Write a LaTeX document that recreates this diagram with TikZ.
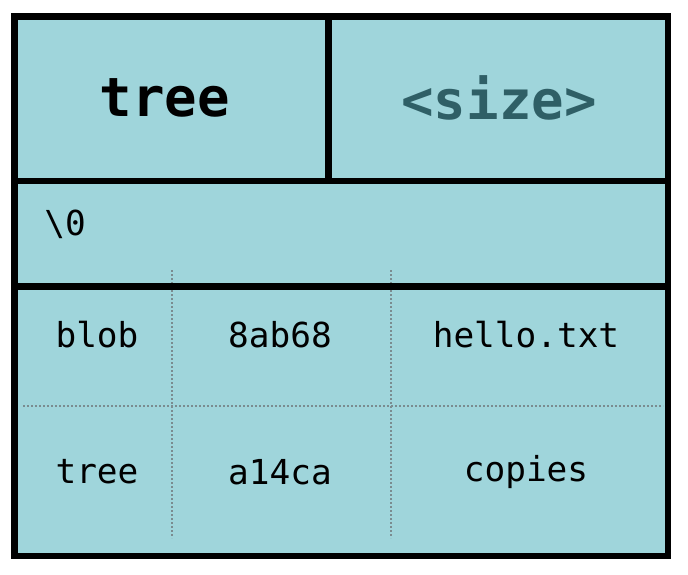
\documentclass[tikz,border=0pt]{standalone}
\usepackage{fontspec}
\setmonofont{DejaVu Sans Mono}
\definecolor{CellTeal}{HTML}{9FD5DB}
\definecolor{SizeText}{HTML}{2F5F66}
\definecolor{DotGray}{HTML}{7A8C90}
\usetikzlibrary{positioning}

\tikzset{
  bigcell/.style={font=\ttfamily\bfseries\fontsize{27}{30}\selectfont},
  smallcell/.style={font=\ttfamily\fontsize{17.2}{20}\selectfont},
  gridline/.style={DotGray, line width=0.7pt, dash pattern=on 0.9pt off 1.1pt},
  wall/.style={black, line width=3.2pt}
}

\begin{document}
\begin{tikzpicture}[x=0.5pt, y=-0.5pt]
  \useasboundingbox (0,0) rectangle (688,574);
  \fill[CellTeal] (14.5,16.5) rectangle (668,556);

  % dotted entry grid
  \draw[gridline] (172,270) -- (172,538);
  \draw[gridline] (391,270) -- (391,538);
  \draw[gridline] (23,406) -- (663,406);

  % header and rows
  \draw[wall] (14.5,181) -- (668,181);
  \draw[wall] (14.5,286.5) -- (668,286.5);
  \draw[wall] (328.5,16.5) -- (328.5,181);
  \draw[wall] (14.5,16.5) rectangle (668,556);

  \node[bigcell] (hdtype) at (165,98) {tree};
  \node[bigcell, text=SizeText] (hdsize) at (499,98) {<size>};
  \node[smallcell, anchor=west, inner sep=0pt] (nul) at (44,224) {\textbackslash 0};

  \node[smallcell] (modeA) at (97,335) {blob};
  \node[smallcell] (hashA) at (280,335) {8ab68};
  \node[smallcell] (nameA) at (526,335) {hello.txt};
  \node[smallcell] (modeB) at (97,472) {tree};
  \node[smallcell] (hashB) at (280,472) {a14ca};
  \node[smallcell] (nameB) at (526,472) {copies};
\end{tikzpicture}
\end{document}
